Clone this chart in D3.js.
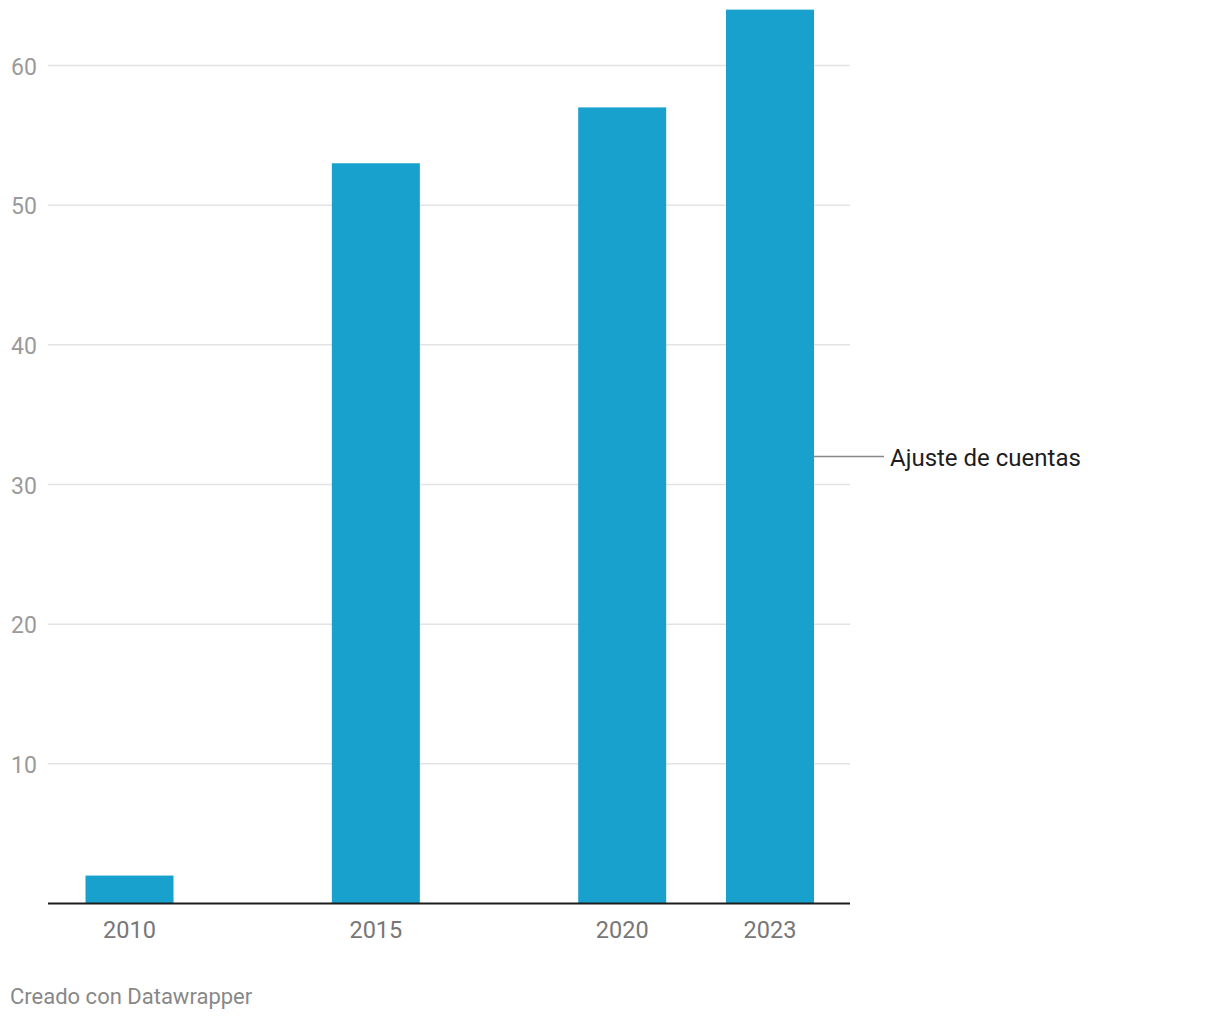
<!DOCTYPE html>
<html>
<head>
<meta charset="utf-8">
<script src="https://cdn.jsdelivr.net/npm/d3@7"></script>
<style>
  body { margin: 0; background: #fff; font-family: Roboto, sans-serif; }
</style>
</head>
<body>
<div id="chart-area"></div>
<script>
// Data
const years = [2010, 2015, 2020, 2023]
const values = [2, 53, 57, 64]
const yTicks = [10, 20, 30, 40, 50, 60]
const seriesName = "Ajuste de cuentas"
const footer = "Creado con Datawrapper"

const W = 1220, H = 1020
const LEFT = 48, RIGHT = 850, BASE = 903.5

const svg = d3.select("#chart-area").append("svg")
  .attr("width", W)
  .attr("height", H)

// Scales
const x = d3.scaleLinear().domain([2010, 2023]).range([129.5, 770])
const y = d3.scaleLinear().domain([0, 60]).range([BASE, 65.5])
const barW = 88

// grid
svg.selectAll(".grid")
  .data(yTicks)
  .join("line")
  .attr("class", "grid")
  .attr("x1", LEFT).attr("x2", RIGHT)
  .attr("y1", d => y(d)).attr("y2", d => y(d))
  .attr("stroke", "#e3e3e3")
  .attr("stroke-width", 1.5)

svg.selectAll(".ylab")
  .data(yTicks)
  .join("text")
  .attr("class", "ylab")
  .attr("x", 11)
  .attr("y", d => y(d) + 9)
  .text(d => d)
  .style("font-size", "23px")
  .style("fill", "#9a9a9a")

// bars
svg.selectAll(".bars")
  .data(years)
  .join("rect")
  .attr("class", "bars")
  .attr("x", d => x(d) - barW / 2)
  .attr("y", (d, i) => y(values[i]))
  .attr("width", barW)
  .attr("height", (d, i) => BASE - y(values[i]))
  .attr("fill", "#18a1cd")

// baseline
svg.append("line")
  .attr("x1", LEFT).attr("x2", RIGHT)
  .attr("y1", BASE).attr("y2", BASE)
  .attr("stroke", "#1d1d1d")
  .attr("stroke-width", 2)

svg.selectAll(".xlab")
  .data(years)
  .join("text")
  .attr("class", "xlab")
  .attr("x", d => x(d))
  .attr("y", 938)
  .attr("text-anchor", "middle")
  .text(d => d)
  .style("font-size", "23.5px")
  .style("fill", "#777")

// series label
const last = years.length - 1
svg.append("line")
  .attr("x1", x(years[last]) + barW / 2).attr("x2", 884)
  .attr("y1", y(values[last] / 2)).attr("y2", y(values[last] / 2))
  .attr("stroke", "#888")
  .attr("stroke-width", 1.5)
svg.append("text")
  .attr("x", 890)
  .attr("y", y(values[last] / 2) + 9)
  .text(seriesName)
  .style("font-size", "24px")
  .style("fill", "#1d1d1d")

svg.append("text")
  .attr("x", 10)
  .attr("y", 1004)
  .text(footer)
  .style("font-size", "22px")
  .style("fill", "#888")
</script>
</body>
</html>
